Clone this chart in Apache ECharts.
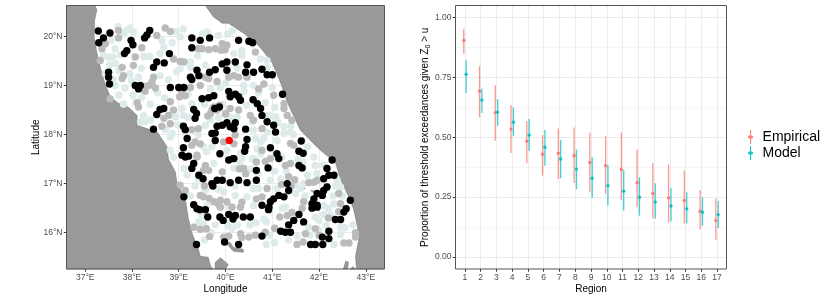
<!DOCTYPE html>
<html><head><meta charset="utf-8">
<style>html,body{margin:0;padding:0;background:#fff}#c{width:830px;height:299px}</style>
<script src="https://cdn.jsdelivr.net/npm/echarts@6/dist/echarts.min.js"></script></head>
<body><div id="c"></div>
<script>
const lonTicks=[37,38,39,40,41,42,43];
const latTicks=[16,17,18,19,20];
const propTicks=[0,0.25,0.5,0.75,1];
const propMinor=[0.125,0.375,0.625,0.875];
const regions=[1,2,3,4,5,6,7,8,9,10,11,12,13,14,15,16,17];
const empMid=[.904,.692,.603,.534,.483,.429,.433,.423,.395,.381,.366,.310,.265,.247,.236,.191,.152];
const empLo=[.849,.583,.485,.434,.391,.340,.326,.309,.273,.263,.238,.208,.161,.144,.140,.115,.071];
const empHi=[.953,.796,.717,.634,.568,.509,.537,.541,.519,.505,.520,.449,.391,.387,.362,.280,.243];
const modMid=[.763,.655,.605,.563,.509,.458,.409,.367,.329,.298,.275,.250,.230,.213,.201,.187,.177];
const modLo=[.685,.602,.548,.506,.444,.381,.329,.284,.247,.215,.194,.173,.161,.148,.140,.130,.121];
const modHi=[.821,.703,.659,.624,.576,.530,.488,.449,.417,.384,.363,.333,.308,.287,.270,.250,.234];
const westLand=[[36.6,20.63],[37.21,20.63],[37.25,20.54],[37.20,20.33],[37.19,19.99],[37.25,19.66],[37.32,19.38],[37.43,19.01],[37.54,18.77],[37.71,18.64],[37.92,18.56],[38.11,18.39],[38.11,18.19],[38.54,18.05],[38.75,17.75],[38.78,17.50],[38.93,17.23],[38.96,17.03],[39.14,16.68],[39.21,16.27],[39.28,16.00],[39.42,15.66],[39.46,15.52],[39.63,15.50],[39.68,15.32],[39.74,15.26],[36.6,15.26]];
const eastLand=[[39.57,20.63],[39.74,20.40],[39.93,20.27],[40.06,20.27],[40.38,20.07],[40.64,19.88],[40.79,19.72],[41.0,19.46],[41.18,19.05],[41.33,18.64],[41.60,18.09],[41.88,17.82],[42.03,17.68],[42.35,17.43],[42.46,17.09],[42.63,16.74],[42.74,16.48],[42.82,16.13],[42.85,15.86],[42.78,15.52],[42.80,15.26],[43.4,15.26],[43.4,20.63]];
const capeLand=[[39.78,15.26],[39.78,15.39],[39.89,15.49],[40.06,15.35],[40.0,15.26]];
const islandA=[[40.0,15.80],[40.17,15.62],[40.38,15.60],[40.38,15.66],[40.17,15.70],[40.10,15.80]];
const islandB=[[42.52,15.26],[42.57,15.42],[42.63,15.40],[42.61,15.26]];
const islandC=[[42.72,15.31],[42.78,15.26],[42.67,15.26]];
const islandD=[[41.62,16.94],[41.70,16.90],[41.66,16.87]];
const islandE=[[41.82,16.86],[41.95,16.78],[42.10,16.82],[41.95,16.84]];
const lowPts=[[37.96,20.17],[38.03,20.09],[37.82,20.05],[39.03,19.99],[38.64,19.92],[38.68,19.78],[38.86,19.87],[39.61,20.09],[39.50,20.05],[37.64,19.75],[37.39,19.61],[37.50,19.58],[37.59,19.58],[37.52,19.42],[38.25,19.59],[38.38,19.59],[37.96,19.24],[38.14,19.17],[37.43,19.24],[37.64,19.00],[37.99,19.10],[38.78,19.12],[39.03,19.34],[39.25,19.48],[39.25,19.37],[40.18,19.65],[40.35,19.61],[40.35,19.71],[40.89,19.51],[40.89,19.37],[40.75,19.54],[39.57,19.41],[39.68,18.93],[40.39,19.00],[40.60,19.00],[41.00,18.96],[39.89,18.96],
[37.82,18.62],[38.18,18.26],[38.28,18.26],[38.39,18.62],[38.25,18.39],[39.07,18.53],[39.10,18.39],[38.93,18.36],[38.86,18.02],[38.82,17.95],[39.57,18.19],[39.42,17.99],[39.53,17.75],[39.71,17.75],[39.60,17.65],[39.28,18.63],[40.10,18.36],[40.25,18.36],[40.57,18.26],[40.60,18.09],[40.64,17.92],[40.68,17.71],[40.93,18.39],[41.07,18.37],[41.25,18.16],[41.25,18.02],[40.82,17.92],[41.10,17.88],[38.82,17.68],[38.89,17.54],[40.03,17.68],[40.60,17.51],[41.39,18.05],[40.32,17.61],[40.75,17.61],
[39.11,17.31],[39.18,17.17],[39.75,17.41],[40.18,17.31],[40.35,17.51],[40.57,17.51],[39.57,16.86],[39.96,16.83],[40.21,16.76],[40.46,16.73],[40.71,16.90],[40.96,17.07],[41.18,17.10],[41.50,16.97],[41.60,16.90],[41.67,17.0],[41.21,17.54],[41.89,17.54],[41.92,17.37],[41.75,17.17],[42.39,17.07],[42.46,16.93],[41.28,16.52],[42.32,16.59],[39.68,16.63],
[39.43,16.22],[39.53,16.18],[39.78,16.16],[40.14,16.09],[40.25,16.15],[40.52,16.16],[40.82,16.28],[40.87,16.22],[40.87,15.76],[41.53,15.93],[41.78,16.11],[41.92,16.32],[42.0,16.25],[42.1,16.37],[41.21,16.50],[42.46,16.11],[42.46,15.96],[42.32,15.76],[42.72,16.16],[42.21,16.49],
[37.88,20.12],[37.75,19.62],[37.65,19.45],[37.72,19.30],[37.60,19.12],[37.85,18.95],[37.72,18.80],[38.02,18.80],[38.20,18.75],[38.55,18.85],[38.70,18.75],[38.40,18.30],[38.72,18.10],[38.98,18.20],[39.20,18.35],[39.20,18.82],[39.55,18.62],[39.68,18.30],[39.85,18.35],[39.95,18.62],[40.00,18.45],[40.45,18.60],[40.40,18.88],[40.70,18.85],[40.85,18.65],[41.05,18.55],[41.12,18.25],[41.45,18.00],[41.40,18.18],[40.90,18.05],[40.75,17.85],[40.30,17.40],[40.55,17.30],[40.70,17.20],[41.05,17.25],[41.30,17.25],[41.55,17.50],[41.75,17.75],[41.65,17.45],[41.95,17.20],[42.10,17.38],[42.35,16.95],[42.30,16.75],[42.50,16.75],[42.10,16.55],[42.25,16.35],[42.55,16.10],[41.70,16.75],[41.50,16.80],[41.10,16.90],[40.60,16.90],[40.20,16.95],[39.85,16.88],[39.35,16.95],[39.25,16.75],[39.42,17.10],[39.60,16.55],[40.05,16.55],[40.60,16.55],[39.50,16.35],[39.70,16.00],[39.55,15.85],[40.05,16.15],[40.65,16.20],[40.95,15.95],[41.05,15.80],[41.35,15.85],[41.80,15.95],[42.15,16.15],[42.00,16.05],[40.25,19.35],[40.00,19.05],[39.40,19.60],[38.60,19.65],[38.20,19.35],[38.60,19.20],[38.95,19.28],[37.55,19.92],[37.70,20.20],[38.95,20.10],[39.10,20.15],[40.15,20.12],[40.05,20.05],[39.85,20.02]];
const midPts=[[37.71,20.12],[37.71,19.97],[37.43,19.85],[37.36,19.75],[37.32,19.51],[38.71,20.17],[38.82,20.10],[38.53,20.02],[38.21,19.77],[38.07,19.58],[38.03,19.41],[37.79,19.37],[37.82,19.20],[37.79,19.14],[38.43,19.07],[38.46,19.17],[38.36,19.00],[38.89,19.54],[39.03,19.49],[39.11,19.48],[39.50,19.75],[39.64,19.73],[39.78,19.75],[39.93,19.85],[40.03,19.82],[39.99,19.73],[40.64,19.68],[40.18,19.20],[40.07,19.17],[40.28,19.17],[40.46,19.17],[39.64,19.14],[39.57,19.17],[39.82,19.08],[39.25,18.96],[39.46,19.00],[40.82,19.03],[40.71,18.93],[37.53,18.73],
[38.11,18.65],[38.14,18.56],[38.82,18.67],[38.78,18.39],[38.68,18.33],[38.89,18.50],[38.64,18.17],[38.82,18.22],[39.07,18.84],[39.02,18.77],[39.68,18.43],[39.71,18.50],[39.82,18.50],[40.28,18.50],[40.10,18.53],[40.53,18.39],[40.60,18.29],[40.78,18.12],[41.03,18.80],[41.25,18.63],[41.25,18.53],[41.32,18.39],[41.42,18.29],[40.21,17.99],[39.96,17.85],[40.18,17.81],[39.28,18.10],[39.42,18.12],[39.35,17.85],[39.28,17.78],[39.46,17.81],[39.39,17.58],[40.78,17.68],[41.39,17.82],[41.46,17.78],[39.14,18.79],
[39.39,17.54],[39.57,17.37],[39.53,17.27],[39.64,17.27],[39.93,17.24],[39.03,16.97],[39.14,16.86],[39.46,16.76],[39.53,16.73],[39.75,16.63],[39.89,16.66],[40.03,16.63],[40.14,16.52],[40.43,17.20],[40.39,17.31],[40.66,17.44],[40.96,17.51],[41.28,17.37],[41.39,17.41],[41.89,17.03],[41.96,17.07],[41.35,17.14],[40.89,16.90],[40.66,16.69],[40.78,16.73],[41.67,16.63],[42.42,16.80],[42.46,16.59],
[39.32,16.11],[39.46,16.07],[39.59,16.08],[39.66,15.92],[39.96,15.91],[40.07,15.93],[40.32,15.98],[40.35,15.90],[40.50,15.91],[40.64,15.95],[40.85,16.01],[41.05,16.09],[41.16,16.32],[41.32,16.35],[41.42,16.41],[41.71,15.98],[41.53,15.76],[41.66,15.81],[41.92,16.08],[42.0,15.95],[42.42,16.43],[42.53,15.79],[42.64,15.79],[42.78,16.0],[42.78,15.91],[40.32,16.52],[39.89,16.52],[41.64,16.50],
[38.30,18.98],[38.50,18.95],[38.28,18.88],[39.90,19.72],[39.42,19.75],[39.87,18.60],[40.00,18.42],[39.75,18.56],[39.62,18.38],[40.85,17.45],[40.30,17.30],[41.48,17.08],[41.40,16.95],[41.20,16.98],[40.35,16.62],[39.65,16.70],[39.85,16.58],[41.78,17.02],[42.20,16.30],[39.55,16.95]];
const highPts=[[37.28,20.11],[37.53,20.07],[37.39,19.97],[37.29,19.87],[38.38,20.12],[38.32,20.03],[38.27,19.97],[37.98,19.92],[38.02,19.83],[37.89,19.71],[37.84,19.65],[39.28,19.97],[39.46,19.92],[39.66,19.97],[39.28,19.77],[40.28,19.92],[40.50,19.90],[40.58,19.87],[38.80,19.65],[38.53,19.48],[38.46,19.37],[38.69,19.46],[40.03,19.48],[39.93,19.44],[39.78,19.32],[39.66,19.27],[40.21,19.48],[40.46,19.42],[40.78,19.33],[40.89,19.22],[41.00,19.22],[40.43,19.27],[40.60,19.27],[40.03,19.31],[39.39,19.31],[39.43,19.20],[39.25,19.17],[39.28,19.12],[37.50,19.27],[37.50,19.17],[37.52,19.03],[38.07,19.00],[38.18,19.00],[38.14,18.93],[38.82,18.96],[39.00,18.96],[39.11,18.96],[40.07,18.88],
[38.60,18.51],[38.68,18.53],[38.53,18.41],[39.32,18.51],[39.38,18.43],[39.35,18.33],[39.50,18.73],[39.64,18.75],[39.75,18.79],[39.87,18.56],[39.77,18.53],[40.10,18.77],[40.21,18.82],[40.28,18.77],[40.32,18.70],[40.59,18.71],[40.68,18.63],[40.75,18.53],[40.78,18.39],[40.89,18.26],[41.22,18.82],[41.03,18.19],[41.07,18.05],[38.46,18.11],[39.10,18.17],[39.14,18.10],[39.82,18.17],[39.93,18.19],[40.03,18.24],[40.10,18.16],[40.21,18.24],[40.18,18.12],[40.43,18.11],[39.71,18.02],[39.78,18.03],[39.78,17.88],[39.18,17.92],[40.46,17.90],[40.43,17.75],[40.41,17.66],[39.10,17.73],[39.07,17.58],[39.21,17.56],[39.88,17.61],[40.18,17.51],[40.96,17.73],[41.10,17.61],[41.14,17.51],[41.62,17.87],[41.57,17.66],[41.66,17.62],
[39.14,17.54],[39.32,17.41],[39.28,17.31],[39.43,17.17],[39.52,17.10],[39.71,17.0],[39.82,17.07],[39.93,17.07],[39.73,16.95],[40.10,17.02],[40.28,17.07],[40.46,17.02],[40.66,17.07],[40.66,17.27],[40.07,17.48],[40.16,17.51],[40.91,17.32],[41.57,17.37],[41.64,17.32],[42.28,17.48],[42.17,17.31],[42.21,17.17],[42.32,17.17],[42.10,17.10],[41.32,17.0],[41.35,16.86],[41.25,16.73],[41.14,16.76],[41.03,16.69],[40.96,16.63],[40.78,16.56],[40.93,16.52],[41.96,16.80],[41.89,16.69],[41.85,16.59],[41.96,16.56],[42.07,16.76],[42.17,16.93],[42.10,16.86],[42.67,16.66],[39.11,16.73],[39.32,16.57],[39.39,16.49],
[39.45,16.47],[39.57,16.47],[39.62,16.32],[39.88,16.32],[39.95,16.25],[40.07,16.37],[40.16,16.28],[40.21,16.35],[40.38,16.32],[40.53,16.32],[40.92,16.47],[39.38,15.76],[39.98,15.81],[40.28,15.76],[40.78,15.93],[41.18,16.03],[41.28,16.01],[41.39,16.01],[41.35,16.16],[41.46,16.25],[41.57,16.37],[41.67,16.22],[41.82,15.76],[41.92,15.76],[42.08,15.76],[42.07,15.91],[42.21,16.03],[42.21,15.88],[42.35,16.27],[42.46,16.27],[42.53,16.42],[42.58,16.49],[41.85,16.50],[41.96,16.52]];
const focusPt=[[40.08,17.88]];

const FONT='"Liberation Sans",Arial,sans-serif';
const chart=echarts.init(document.getElementById('c'),null,{renderer:'canvas'});
const L={left:66.5,top:5.5,width:318,height:263.5}, R={left:455.5,top:5.5,width:271,height:263.5};
const tickStyle={show:true,length:2.7,lineStyle:{color:'#333',width:1}};
const major={show:true,lineStyle:{color:'#ebebeb',width:1}};
const lab={color:'#4d4d4d',fontSize:8.5,fontFamily:FONT,margin:4};
const nameSt={color:'#000',fontSize:10,fontFamily:FONT};
const hiddenLine={show:false,onZero:false};
const polys=[westLand,eastLand,capeLand,islandA,islandB,islandC,islandD,islandE];
function polySeries(){return {type:'custom',xAxisIndex:0,yAxisIndex:0,z:1,silent:true,data:polys.map((p,i)=>[i]),
 renderItem(p,api){const pts=polys[api.value(0)].map(c=>api.coord(c));
  return {type:'polygon',shape:{points:pts},style:{fill:'#999999',stroke:'#555',lineWidth:0.4}};},animation:false};}
function pts(data,color,z){return {type:'scatter',xAxisIndex:0,yAxisIndex:0,data,symbolSize:7.4,z,silent:true,itemStyle:{color,opacity:1},animation:false};}
function rangeSeries(name,color,off,mid,lo,hi){
 return [{type:'custom',name:name+' range',xAxisIndex:1,yAxisIndex:1,z:3,silent:true,animation:false,
  data:regions.map((r,i)=>[r+off,lo[i],hi[i]]),
  renderItem(p,api){const a=api.coord([api.value(0),api.value(1)]),b=api.coord([api.value(0),api.value(2)]);
   return {type:'line',shape:{x1:a[0],y1:a[1],x2:b[0],y2:b[1]},style:{stroke:color,lineWidth:1.3,opacity:.75}};}},
  {type:'scatter',name,xAxisIndex:1,yAxisIndex:1,z:4,silent:true,animation:false,symbolSize:3.4,itemStyle:{color,opacity:.9},
   data:regions.map((r,i)=>[r+off,mid[i]])}];
}
const legendIcon='path://M9.2,0H10.8V7.9A2.2,2.2,0,1,1,10.8,12.1V20H9.2V12.1A2.2,2.2,0,1,1,9.2,7.9Z';
chart.setOption({
 animation:false,backgroundColor:'#fff',
 grid:[{...L,show:false,outerBoundsMode:'none'},{...R,show:false,outerBoundsMode:'none'}],
 xAxis:[
  {type:'value',gridIndex:0,min:36.6,max:43.4,name:'Longitude',nameLocation:'middle',nameGap:15,nameMoveOverlap:false,nameTextStyle:nameSt,
   axisLine:hiddenLine,axisTick:{...tickStyle,customValues:lonTicks},axisLabel:{...lab,customValues:lonTicks,formatter:v=>v+'°E'},splitLine:major},
  {type:'value',gridIndex:1,min:0.4,max:17.6,name:'Region',nameLocation:'middle',nameGap:15,nameMoveOverlap:false,nameTextStyle:nameSt,
   axisLine:hiddenLine,axisTick:{...tickStyle,customValues:regions},axisLabel:{...lab,customValues:regions,formatter:v=>String(v)},splitLine:major}
 ],
 yAxis:[
  {type:'value',gridIndex:0,min:15.26,max:20.63,name:'Latitude',nameLocation:'middle',nameGap:25,nameMoveOverlap:false,nameTextStyle:nameSt,
   axisLine:hiddenLine,axisTick:{...tickStyle,customValues:latTicks},axisLabel:{...lab,customValues:latTicks,formatter:v=>v+'°N'},splitLine:major},
  {type:'value',gridIndex:1,min:-0.05,max:1.05,name:'{a|Proportion of threshold exceedances given Z}{s|0}{a| > u}',nameLocation:'middle',nameGap:24,nameMoveOverlap:false,
   nameTextStyle:{rich:{a:{...nameSt},s:{color:'#000',fontSize:7,fontFamily:FONT,padding:[5,0,0,0]}}},
   axisLine:hiddenLine,axisTick:{...tickStyle,customValues:propTicks},axisLabel:{...lab,customValues:propTicks,formatter:v=>v.toFixed(2)},splitLine:major},
  {type:'value',gridIndex:1,min:-0.05,max:1.05,position:'left',axisLine:hiddenLine,axisTick:{show:false,customValues:propMinor},axisLabel:{show:false,customValues:propMinor},
   splitLine:{show:true,lineStyle:{color:'#f0f0f0',width:0.6}}}
 ],
 legend:{show:true,orient:'vertical',left:743,top:125,itemWidth:8,itemHeight:14,itemGap:2,icon:legendIcon,
  textStyle:{fontSize:14,color:'#000',fontFamily:FONT,padding:[0,0,0,3]},data:['Empirical','Model'],selectedMode:false},
 graphic:[
  {type:'rect',z:100,silent:true,shape:{x:L.left,y:L.top,width:L.width,height:L.height},style:{fill:null,stroke:'#555',lineWidth:1}},
  {type:'rect',z:100,silent:true,shape:{x:R.left,y:R.top,width:R.width,height:R.height},style:{fill:null,stroke:'#555',lineWidth:1}}
 ],
 series:[polySeries(),pts(lowPts,'#DDEBEB',2),pts(midPts,'#BBBBBB',3),pts(highPts,'#000000',4),pts(focusPt,'#FF0000',5),
  ...rangeSeries('Empirical','#F8766D',-0.075,empMid,empLo,empHi),
  ...rangeSeries('Model','#00BFC4',0.075,modMid,modLo,modHi)]
});
</script></body></html>
